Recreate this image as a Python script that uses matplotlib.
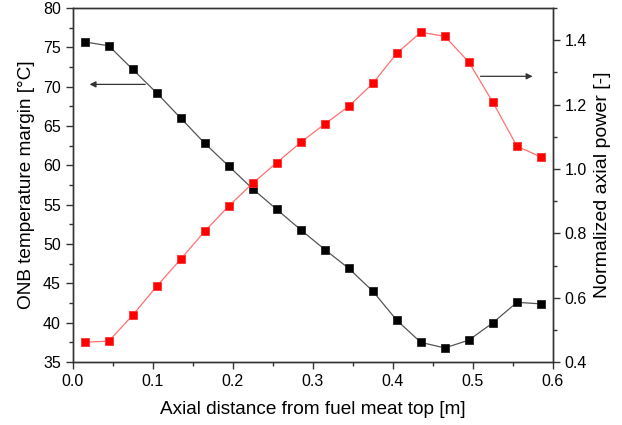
import numpy as np
import matplotlib.pyplot as plt

plt.rcParams['font.family'] = ['Liberation Sans', 'DejaVu Sans']

# axial positions [m]
x = [0.015, 0.045, 0.075, 0.105, 0.135, 0.165, 0.195, 0.225, 0.255, 0.285,
     0.315, 0.345, 0.375, 0.405, 0.435, 0.465, 0.495, 0.525, 0.555, 0.585]
# ONB temperature margin [C]
onb = [75.7, 75.2, 72.2, 69.2, 66.0, 62.8, 59.9, 57.0, 54.4, 51.8,
       49.3, 46.9, 44.0, 40.3, 37.5, 36.8, 37.8, 40.0, 42.6, 42.4]
# normalized axial power [-]
power = [0.462, 0.465, 0.546, 0.636, 0.720, 0.807, 0.885, 0.956, 1.020, 1.083,
         1.140, 1.195, 1.266, 1.360, 1.425, 1.412, 1.332, 1.207, 1.071, 1.037]

fig = plt.figure(figsize=(6.22, 4.25), dpi=100)
ax1 = fig.add_axes([0.117, 0.148, 0.772, 0.833])
ax2 = ax1.twinx()

ax1.plot(x, onb, color='#555555', lw=0.9, marker='s', ms=6,
         mfc='black', mec='#222222', mew=0.6, zorder=3)
ax2.plot(x, power, color='#ff7070', lw=0.9, marker='s', ms=6,
         mfc='red', mec='#ff3030', mew=0.6, zorder=3)

ax1.set_xlim(0, 0.6)
ax1.set_ylim(35, 80)
ax2.set_ylim(0.4, 1.5)
ax1.set_xticks(np.arange(0, 0.61, 0.1))
ax1.set_xticks(np.arange(0.05, 0.6, 0.1), minor=True)
ax1.set_yticks(np.arange(35, 81, 5))
ax1.set_yticks(np.arange(37.5, 80, 5), minor=True)
ax2.set_yticks([0.4, 0.6, 0.8, 1.0, 1.2, 1.4])
ax2.set_yticks([0.5, 0.7, 0.9, 1.1, 1.3, 1.5], minor=True)

for ax in (ax1, ax2):
    for s in ax.spines.values():
        s.set_color('#333333')
        s.set_linewidth(1.0)
    ax.tick_params(which='major', length=5, width=1, labelsize=11.5, color='#333333')
    ax.tick_params(which='minor', length=3, width=1, color='#333333')

ax1.set_xticklabels(['0.0', '0.1', '0.2', '0.3', '0.4', '0.5', '0.6'])
ax1.set_xlabel('Axial distance from fuel meat top [m]', fontsize=13.7, labelpad=9)
ax1.set_ylabel('ONB temperature margin [°C]', fontsize=13.7, labelpad=6)
ax2.set_ylabel('Normalized axial power [-]', fontsize=14, labelpad=5)

ax1.annotate('', xy=(0.0175, 70.3), xytext=(0.094, 70.3),
             arrowprops=dict(arrowstyle='-|>', color='#333333', lw=0.9,
                             mutation_scale=9))
ax2.annotate('', xy=(0.578, 1.288), xytext=(0.506, 1.288),
             arrowprops=dict(arrowstyle='-|>', color='#333333', lw=0.9,
                             mutation_scale=9))

fig.savefig('out.png', dpi=100)
